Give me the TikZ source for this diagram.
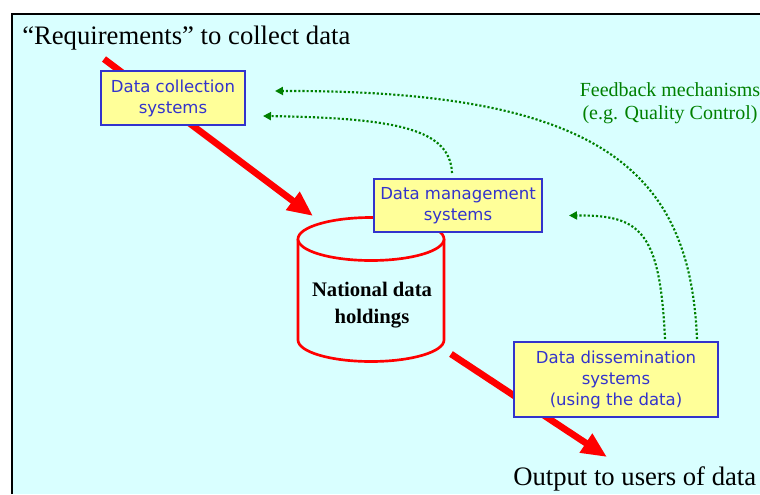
\documentclass[tikz,border=0pt]{standalone}
\usepackage{fontspec}
\setmainfont{Liberation Serif}
\newfontfamily\boxfont{DejaVu Sans}
\usetikzlibrary{arrows.meta, calc}
\definecolor{panel}{RGB}{217,255,255}
\definecolor{boxfill}{RGB}{255,255,153}
\definecolor{boxblue}{RGB}{51,51,204}
\definecolor{fbgreen}{RGB}{0,128,0}

\begin{document}
\begin{tikzpicture}[x=0.75pt, y=-0.75pt]
    \tikzstyle{sysbox} = [draw=boxblue, fill=boxfill, line width=1.5pt, text=boxblue, align=center, inner sep=2pt, font=\boxfont\fontsize{12.4}{15.8}\selectfont]
    \tikzstyle{flow} = [red, line width=5pt, -{Triangle[length=19pt, width=16pt]}]
    \tikzstyle{feedback} = [fbgreen, line width=1.6pt, dash pattern=on 1.6pt off 1.5pt, -{Triangle[length=6pt, width=6pt]}]
    \tikzstyle{holding} = [red, line width=2pt, fill=panel]

    \useasboundingbox (0,0) rectangle (760,494);
    \fill[panel] (12,14) rectangle (760,494);
    \draw[line width=1.3pt] (12,494) -- (12,14) -- (760,14);

    % red data flow
    \coordinate (req) at (104,59);
    \coordinate (ndhin) at (313,216);
    \coordinate (ndhout) at (451,354);
    \coordinate (out) at (607,457);
    \draw[flow] (req) -- (ndhin);
    \draw[flow] (ndhout) -- (out);

    % national data holdings
    \draw[holding] (298,239) -- (298,340) arc[start angle=180, end angle=0, x radius=73, y radius=21.5] -- (444,239);
    \draw[holding] (371,239) ellipse [x radius=73, y radius=21.5];
    \node[font=\bfseries\fontsize{15.5}{20}\selectfont, align=center] (NDH) at (372,305) {National data\\holdings};

    \path
        node[sysbox, minimum width=108pt, minimum height=40.5pt] (DCS) at (173,98) {Data collection\\systems}
        node[sysbox, minimum width=126pt, minimum height=39.75pt] (DMS) at (458,205.5) {Data management\\systems}
        node[sysbox, minimum width=153pt, minimum height=56.25pt] (DDS) at (616,379.5) {Data dissemination\\systems\\(using the data)};

    % feedback loops
    \draw[feedback] ($(DDS.north)+(81,-2)$) .. controls (690,170) and (600,90) .. ($(DCS.east)+(29,-7)$);
    \draw[feedback] ($(DDS.north)+(49,-2)$) .. controls (660,230) and (640,215) .. ($(DMS.east)+(26,10)$);
    \draw[feedback] ($(DMS.north)+(-6,-5)$) .. controls (450,130) and (400,118) .. ($(DCS.east)+(17,18)$);

    \node[anchor=base west, inner sep=0pt, font=\fontsize{20}{24}\selectfont] (title) at (22,44) {``Requirements'' to collect data};
    \node[anchor=base west, inner sep=0pt, font=\fontsize{20}{24}\selectfont] (output) at (513,485) {Output to users of data};
    \node[text=fbgreen, align=center, font=\fontsize{15}{17.5}\selectfont] (fb) at (670,103) {Feedback mechanisms\\(e.g. Quality Control)};
\end{tikzpicture}
\end{document}
